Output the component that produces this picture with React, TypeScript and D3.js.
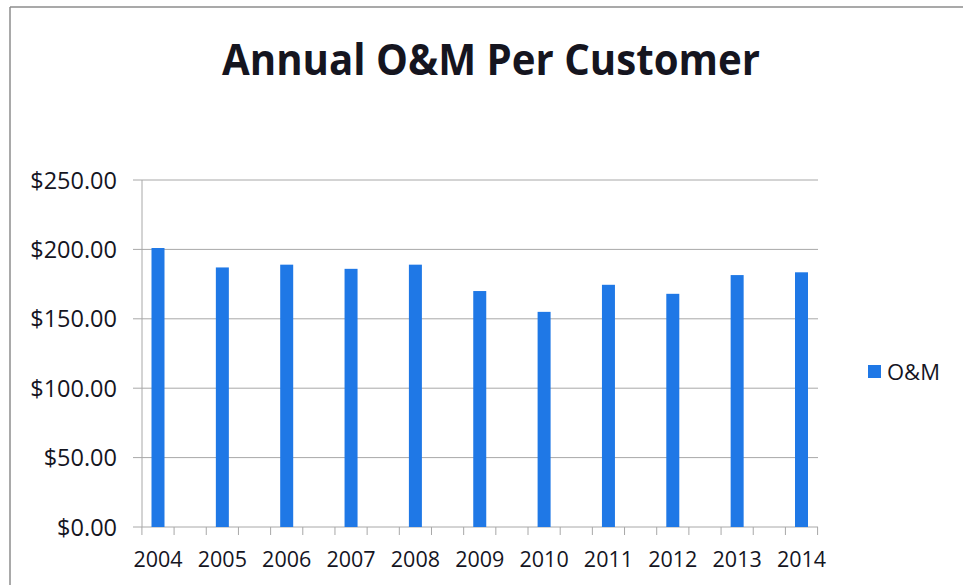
import React from "react";
import * as d3 from "d3";

const years = ["2004", "2005", "2006", "2007", "2008", "2009", "2010", "2011", "2012", "2013", "2014"];
const omValues = [201, 187, 189, 186, 189, 170, 155, 174.5, 168, 181.5, 183.5];
const yTicks = [0, 50, 100, 150, 200, 250];
const title = "Annual O&M Per Customer";
const seriesName = "O&M";

const W = 963;
const H = 585;
const BLUE = "#1f78e6";
const GRID = "#a8a8a8";
const TEXT = "#15151f";
const FONT = "'Open Sans', 'DejaVu Sans', sans-serif";

export default function App() {
  const y = d3.scaleLinear().domain([0, 250]).range([527, 180]);
  const x = d3.scalePoint<string>().domain(years).range([158, 801.5]);
  const step = x.step();
  const barW = 13;
  const axisX = 142;
  const gridRight = 818;
  const fmt = (v: number) => "$" + d3.format(".2f")(v);

  const minorTicks: number[] = [];
  years.forEach((yr) => {
    const c = x(yr) as number;
    minorTicks.push(c - step / 4, c + step / 4);
  });

  return (
    <svg width={W} height={H} style={{ position: "absolute", left: 0, top: 0, background: "#fff" }}>
      <rect x={0} y={0} width={W} height={H} fill="#fff" />
      {/* frame */}
      <line x1={10} y1={7} x2={W} y2={7} stroke="#8c8c8c" strokeWidth={1.5} />
      <line x1={10} y1={7} x2={10} y2={H} stroke="#8c8c8c" strokeWidth={1.5} />

      <text
        x={491}
        y={75}
        textAnchor="middle"
        fontFamily={FONT}
        fontWeight={700}
        fontSize={43}
        fill={TEXT}
        textLength={538}
        lengthAdjust="spacingAndGlyphs"
      >
        {title}
      </text>

      {/* gridlines */}
      {yTicks.map((t) => (
        <line key={"g" + t} x1={133} x2={gridRight} y1={y(t)} y2={y(t)} stroke={GRID} strokeWidth={1} />
      ))}
      {/* y axis */}
      <line x1={axisX} x2={axisX} y1={y(250)} y2={y(0)} stroke={GRID} strokeWidth={1} />
      {/* x axis ticks */}
      {minorTicks.map((t, i) => (
        <line key={"t" + i} x1={t} x2={t} y1={y(0)} y2={y(0) + 8} stroke={GRID} strokeWidth={1} />
      ))}

      {/* bars */}
      {years.map((yr, i) => (
        <rect
          key={yr}
          x={(x(yr) as number) - barW / 2}
          y={y(omValues[i])}
          width={barW}
          height={y(0) - y(omValues[i])}
          fill={BLUE}
        />
      ))}

      {/* y labels */}
      {yTicks.map((t) => (
        <text
          key={"l" + t}
          x={117}
          y={y(t) + 8.5}
          textAnchor="end"
          fontFamily={FONT}
          fontSize={23.5}
          fill={TEXT}
        >
          {fmt(t)}
        </text>
      ))}

      {/* x labels */}
      {years.map((yr) => (
        <text
          key={"x" + yr}
          x={x(yr) as number}
          y={567}
          textAnchor="middle"
          fontFamily={FONT}
          fontSize={21.5}
          fill={TEXT}
        >
          {yr}
        </text>
      ))}

      {/* legend */}
      <rect x={868} y={365} width={13} height={13} fill={BLUE} />
      <text x={887} y={380} fontFamily={FONT} fontSize={22} fill={TEXT}>
        {seriesName}
      </text>
    </svg>
  );
}
